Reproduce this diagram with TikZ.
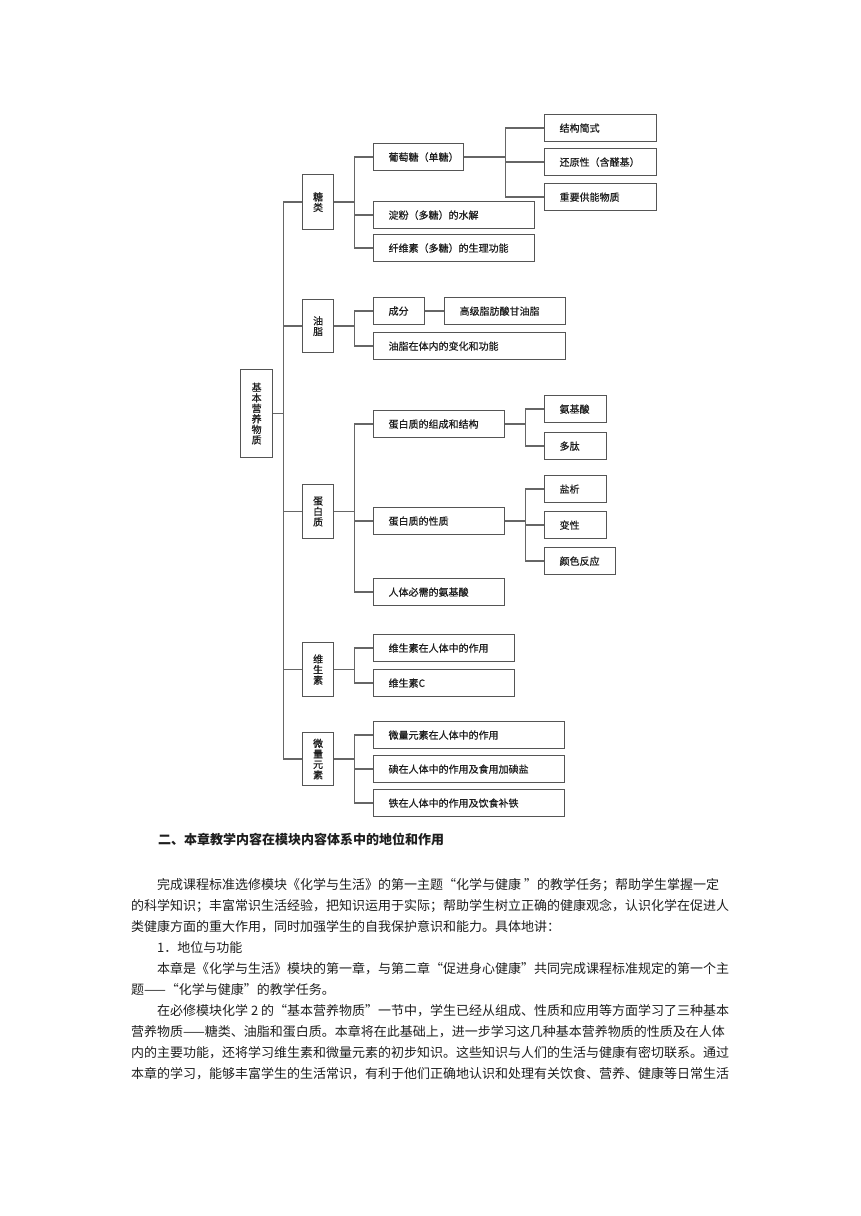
\documentclass[tikz,border=0pt]{standalone}
\usepackage{fontspec}
\setmainfont{Noto Sans CJK SC}
\newfontfamily\boxcjk[FakeBold=0.7]{Noto Sans CJK SC}
\usetikzlibrary{positioning}
\setlength{\parindent}{0pt}

\definecolor{boxline}{HTML}{555555}
\definecolor{linkline}{HTML}{666666}
\definecolor{inktext}{HTML}{1E1E1E}
\newcommand{\boxfont}{\boxcjk\fontsize{10}{10.5}\selectfont}
\newcommand{\bodyfont}{\fontsize{13}{16}\selectfont}

\begin{document}
\begin{tikzpicture}[
    x=1pt, y=-1pt,
    rootbox/.style={draw=boxline, line width=1.2pt, anchor=north west, minimum width=32pt, minimum height=88pt, inner sep=0pt, align=center, font=\boxfont, text=inktext},
    catbox/.style={draw=boxline, line width=1.2pt, anchor=north west, minimum width=31pt, inner sep=0pt, align=center, font=\boxfont, text=inktext},
    leafbox/.style={draw=boxline, line width=1.2pt, anchor=north west, minimum height=27pt, inner xsep=4pt, inner ysep=0pt, text width=#1, align=left, font=\boxfont, text=inktext, execute at begin node={\hspace*{11pt}}},
    link/.style={draw=linkline, line width=1.3pt},
    bodyline/.style={anchor=west, inner sep=0pt, font=\bodyfont, text=inktext}
]
    \useasboundingbox (0,0) rectangle (860,1216);

    % Root and categories
    \node[rootbox] (root) at (240,369) {基\\本\\营\\养\\物\\质};
    \node[catbox, minimum height=55pt] (tang) at (302,174) {糖\\类};
    \node[catbox, minimum height=53pt] (you) at (302,299) {油\\脂};
    \node[catbox, minimum height=54pt] (dbz) at (302,484) {蛋\\白\\质};
    \node[catbox, minimum height=54pt] (wss) at (302,642) {维\\生\\素};
    \node[catbox, minimum height=53pt] (wl) at (302,732) {微\\量\\元\\素};

    % Sugars
    \node[leafbox=82pt] (pt) at (373,143) {葡萄糖（单糖）};
    \node[leafbox=153pt] (df) at (373,201) {淀粉（多糖）的水解};
    \node[leafbox=153pt] (xws) at (373,234) {纤维素（多糖）的生理功能};
    \node[leafbox=104pt] (jg) at (544,114) {结构简式};
    \node[leafbox=104pt] (hy) at (544,148) {还原性（含醛基）};
    \node[leafbox=104pt] (gn) at (544,183) {重要供能物质};

    % Fats
    \node[leafbox=43pt] (cf) at (373,297) {成分};
    \node[leafbox=113pt] (gj) at (444,297) {高级脂肪酸甘油脂};
    \node[leafbox=184pt] (bh) at (373,332) {油脂在体内的变化和功能};

    % Proteins
    \node[leafbox=123pt] (zc) at (373,410) {蛋白质的组成和结构};
    \node[leafbox=123pt] (xz) at (373,507) {蛋白质的性质};
    \node[leafbox=123pt] (bx) at (373,578) {人体必需的氨基酸};
    \node[leafbox=54pt] (ajs) at (544,395) {氨基酸};
    \node[leafbox=54pt] (dt) at (544,432) {多肽};
    \node[leafbox=54pt] (yx) at (544,475) {盐析};
    \node[leafbox=54pt] (bxg) at (544,511) {变性};
    \node[leafbox=63pt] (ys) at (544,547) {颜色反应};

    % Vitamins
    \node[leafbox=133pt] (wzy) at (373,634) {维生素在人体中的作用};
    \node[leafbox=133pt] (wc) at (373,669) {维生素C};

    % Trace elements
    \node[leafbox=183pt] (wlzy) at (373,721) {微量元素在人体中的作用};
    \node[leafbox=183pt] (dian) at (373,755) {碘在人体中的作用及食用加碘盐};
    \node[leafbox=183pt] (tie) at (373,789) {铁在人体中的作用及饮食补铁};

    % Connectors
    \foreach \c in {tang,you,dbz,wss,wl}
        \draw[link] (root.east) -- ++(10,0) |- (\c.west);
    \foreach \p/\c in {tang/pt,tang/df,tang/xws,you/cf,you/bh,dbz/zc,dbz/xz,dbz/bx,wss/wzy,wss/wc,wl/wlzy,wl/dian,wl/tie}
        \draw[link] (\p.east) -- ++(20,0) |- (\c.west);
    \foreach \c in {jg,hy,gn}
        \draw[link] (pt.east) -- ++(41,0) |- (\c.west);
    \foreach \p/\c in {zc/ajs,zc/dt,xz/yx,xz/bxg,xz/ys}
        \draw[link] (\p.east) -- ++(20,0) |- (\c.west);
    \draw[link] (cf) -- (gj);

    % Text below the chart
    \node[bodyline, font=\bodyfont\bfseries] (head) at (158,839) {二、本章教学内容在模块内容体系中的地位和作用};
    \node[bodyline] (p1) at (157,885) {完成课程标准选修模块《化学与生活》的第一主题“化学与健康 ”的教学任务；帮助学生掌握一定};
    \node[bodyline] (p2) at (131,906) {的科学知识；丰富常识生活经验，把知识运用于实际；帮助学生树立正确的健康观念，认识化学在促进人};
    \node[bodyline] (p3) at (131,927) {类健康方面的重大作用，同时加强学生的自我保护意识和能力。具体地讲：};
    \node[bodyline] (p4) at (157,948) {1．地位与功能};
    \node[bodyline] (p5) at (157,969) {本章是《化学与生活》模块的第一章，与第二章“促进身心健康”共同完成课程标准规定的第一个主};
    \node[bodyline] (p6) at (131,990) {题——“化学与健康”的教学任务。};
    \node[bodyline] (p7) at (157,1011) {在必修模块化学 2 的“基本营养物质”一节中，学生已经从组成、性质和应用等方面学习了三种基本};
    \node[bodyline] (p8) at (131,1032) {营养物质——糖类、油脂和蛋白质。本章将在此基础上，进一步学习这几种基本营养物质的性质及在人体};
    \node[bodyline] (p9) at (131,1053) {内的主要功能，还将学习维生素和微量元素的初步知识。这些知识与人们的生活与健康有密切联系。通过};
    \node[bodyline] (p10) at (131,1074) {本章的学习，能够丰富学生的生活常识，有利于他们正确地认识和处理有关饮食、营养、健康等日常生活};
\end{tikzpicture}
\end{document}
